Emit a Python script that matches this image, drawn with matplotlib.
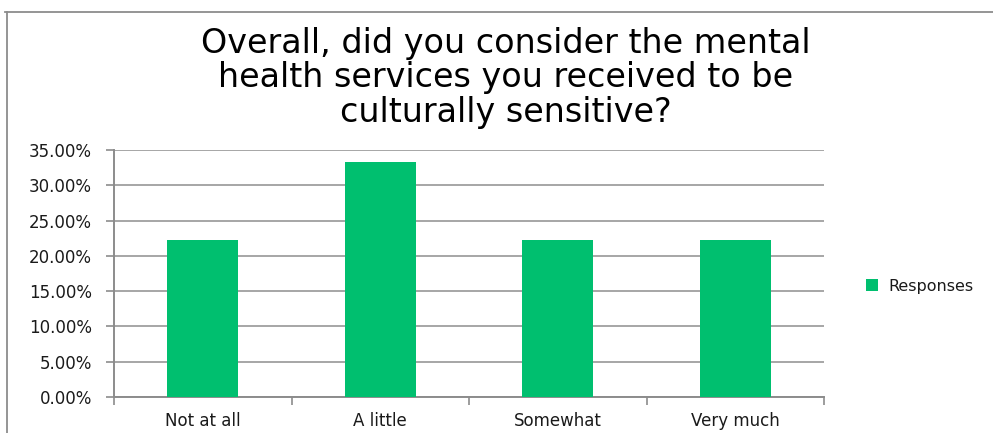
import matplotlib.pyplot as plt
from matplotlib.lines import Line2D
from matplotlib.ticker import FuncFormatter, FixedLocator, NullFormatter

categories = ['Not at all', 'A little', 'Somewhat', 'Very much']
responses = [22.22, 33.33, 22.22, 22.22]
yticks = [0, 5, 10, 15, 20, 25, 30, 35]
title = 'Overall, did you consider the mental\nhealth services you received to be\nculturally sensitive?'

W, H = 993, 433
fig = plt.figure(figsize=(W / 100, H / 100), dpi=100)

# chart frame (top and left edge only)
fig.add_artist(Line2D([5 / W, 1], [1 - 12 / H, 1 - 12 / H], color='#8c8c8c', lw=1.3))
fig.add_artist(Line2D([7 / W, 7 / W], [1 - 12 / H, 0], color='#8c8c8c', lw=1.3))

fig.text(506 / W, 1 - 78 / H, title, ha='center', va='center', fontsize=24,
         family='DejaVu Sans', linespacing=1.06)

ax = fig.add_axes([114 / W, 1 - 397 / H, 710 / W, 247 / H])
x = range(len(categories))
ax.bar(x, responses, width=0.4, color='#00bf6f', label='Responses', zorder=3)

ax.set_xlim(-0.5, len(categories) - 0.5)
ax.set_ylim(0, 35)
ax.set_yticks(yticks)
ax.yaxis.set_major_formatter(FuncFormatter(lambda v, p: '%.2f%%' % v))
ax.grid(axis='y', color='#a6a6a6', lw=1.4, zorder=0)

# category labels centered, ticks on category boundaries
ax.xaxis.set_major_locator(FixedLocator([i - 0.5 for i in range(len(categories) + 1)]))
ax.xaxis.set_major_formatter(NullFormatter())
ax.set_xticks(list(x), minor=True)
ax.set_xticklabels(categories, minor=True)
ax.tick_params(axis='x', which='minor', length=0, pad=11)
ax.tick_params(axis='x', which='major', length=6, color='#8c8c8c', width=1.2)
ax.tick_params(axis='y', length=6, color='#8c8c8c', width=1.2, pad=10)

for lab in ax.get_xticklabels(minor=True) + ax.get_yticklabels():
    lab.set_fontfamily('DejaVu Sans')
    lab.set_fontsize(12)
    lab.set_color('#1a1a1a')

for s in ['top', 'right']:
    ax.spines[s].set_visible(False)
for s in ['left', 'bottom']:
    ax.spines[s].set_color('#8c8c8c')
    ax.spines[s].set_linewidth(1.4)

leg = fig.legend(loc='center left', bbox_to_anchor=(852 / W, 1 - 286 / H), frameon=False,
                 handlelength=0.75, handleheight=0.75, handletextpad=0.6,
                 prop={'family': 'DejaVu Sans', 'size': 11.5})
for t in leg.get_texts():
    t.set_color('#1a1a1a')

fig.savefig('out.png', dpi=100)
